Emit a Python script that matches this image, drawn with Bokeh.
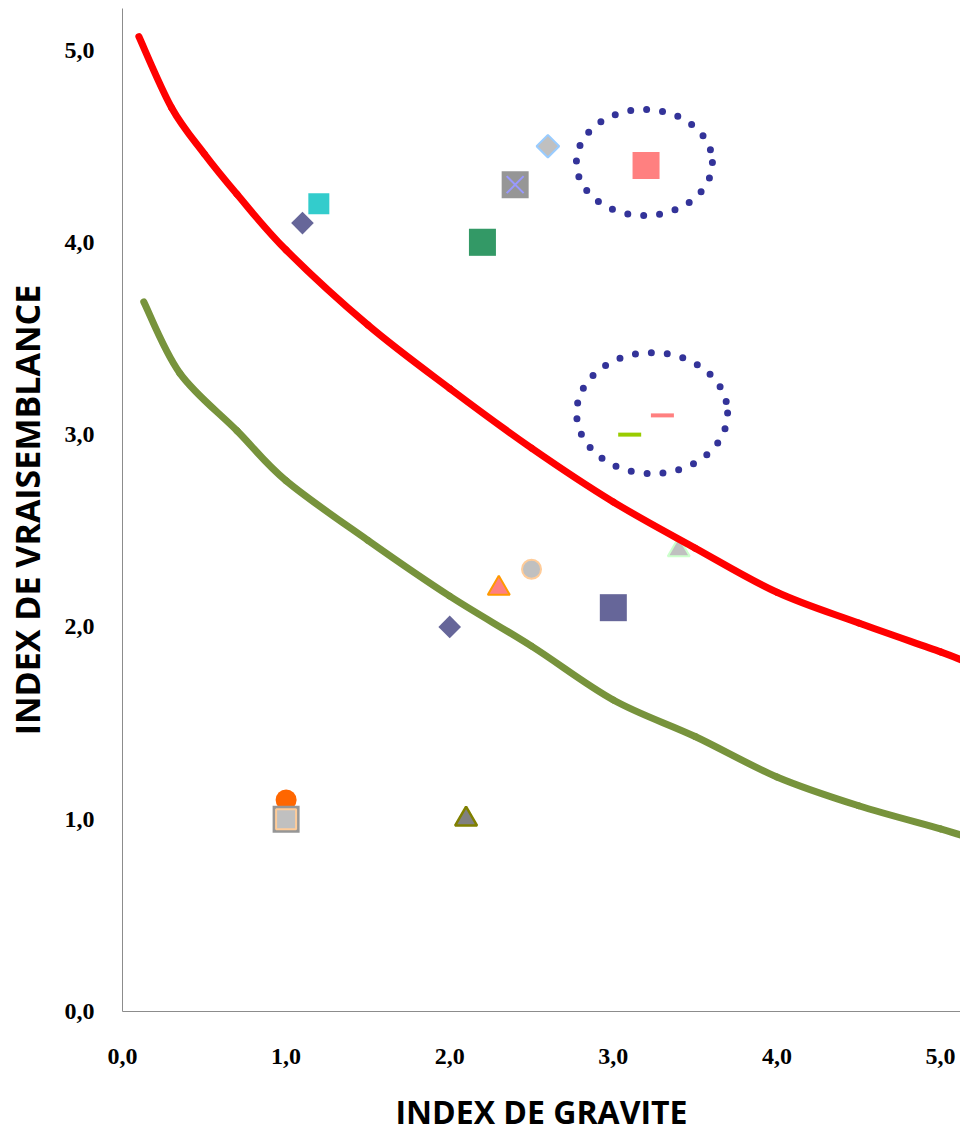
from bokeh.plotting import figure
from bokeh.models import Range1d, FixedTicker
from bokeh.embed import file_html
from bokeh.resources import INLINE
import numpy as np

# ---- data ----
tick_values = [0, 1, 2, 3, 4, 5]
tick_labels = ["0,0", "1,0", "2,0", "3,0", "4,0", "5,0"]
x_title = "INDEX DE GRAVITE"
y_title = "INDEX DE VRAISEMBLANCE"

red_x = [0.1, 0.3, 0.5, 0.7, 1.0, 1.5, 2.0, 2.5, 3.0, 3.5, 4.0, 4.5, 5.0, 5.15]
red_y = [5.07, 4.70, 4.46, 4.25, 3.96, 3.57, 3.24, 2.93, 2.65, 2.41, 2.18, 2.02, 1.87, 1.82]

green_x = [0.13, 0.35, 0.7, 1.0, 1.5, 2.0, 2.5, 3.0, 3.5, 4.0, 4.5, 5.0, 5.15]
green_y = [3.69, 3.32, 3.02, 2.76, 2.45, 2.16, 1.90, 1.62, 1.43, 1.22, 1.07, 0.95, 0.91]

slate_diamond_x = [1.1, 2.0]
slate_diamond_y = [4.1, 2.0]
cyan_square_x = [1.2]
cyan_square_y = [4.2]
green_square_x = [2.2]
green_square_y = [4.0]
gray_xsquare_x = [2.4]
gray_xsquare_y = [4.3]
light_diamond_x = [2.6]
light_diamond_y = [4.5]
salmon_square_x = [3.2]
salmon_square_y = [4.4]
salmon_dash_x = [3.3]
salmon_dash_y = [3.1]
lime_dash_x = [3.1]
lime_dash_y = [3.0]
salmon_tri_x = [2.3]
salmon_tri_y = [2.2]
gray_circle_x = [2.5]
gray_circle_y = [2.3]
light_tri_x = [3.4]
light_tri_y = [2.4]
slate_square_x = [3.0]
slate_square_y = [2.1]
orange_circle_x = [1.0]
orange_circle_y = [1.1]
gray_square_x = [1.0]
gray_square_y = [1.0]
inner_square_x = [1.0]
inner_square_y = [1.0]
olive_tri_x = [2.1]
olive_tri_y = [1.0]

ellipse_x = [3.19, 3.237]
ellipse_y = [4.415, 3.112]
ellipse_w = [136, 151]
ellipse_h = [106, 121]

# ---- figure ----
p = figure(width=960, height=1140, output_backend="svg", toolbar_location=None,
           x_range=Range1d(0, 5.122), y_range=Range1d(0, 5.216),
           min_border_left=122, min_border_right=0, min_border_top=8, min_border_bottom=129)
p.outline_line_color = None
p.xgrid.visible = False
p.ygrid.visible = False
p.background_fill_color = "white"
p.border_fill_color = "white"

for ax in (p.xaxis[0], p.yaxis[0]):
    ax.ticker = FixedTicker(ticks=tick_values)
    ax.major_label_overrides = {v: l for v, l in zip(tick_values, tick_labels)}
    ax.axis_line_color = "#8c8c8c"
    ax.axis_line_width = 1
    ax.major_tick_line_color = None
    ax.minor_tick_line_color = None
    ax.major_label_text_font = "Liberation Serif"
    ax.major_label_text_font_style = "bold"
    ax.major_label_text_font_size = "24px"
    ax.major_label_text_color = "black"
    ax.axis_label_text_font = "Open Sans"
    ax.axis_label_text_font_style = "bold"
    ax.axis_label_text_color = "black"

p.xaxis.axis_label = x_title
p.yaxis.axis_label = y_title
p.xaxis.axis_label_text_font_size = "32px"
p.yaxis.axis_label_text_font_size = "34px"
p.xaxis.major_label_standoff = 31
p.xaxis.axis_label_standoff = 23
p.yaxis.major_label_standoff = 22
p.yaxis.axis_label_standoff = 12


def smooth_segments(xs, ys):
    # Bezier control points (Catmull-Rom style) so the line is drawn smoothly,
    # passing through every data point, like a smoothed spreadsheet line.
    X = np.array(xs, float)
    Y = np.array(ys, float)
    n = len(X)
    x0, y0, x1, y1, cx0, cy0, cx1, cy1 = [], [], [], [], [], [], [], []
    for i in range(n - 1):
        a = max(i - 1, 0)
        b = min(i + 2, n - 1)
        x0.append(X[i]); y0.append(Y[i]); x1.append(X[i + 1]); y1.append(Y[i + 1])
        cx0.append(X[i] + (X[i + 1] - X[a]) / 6); cy0.append(Y[i] + (Y[i + 1] - Y[a]) / 6)
        cx1.append(X[i + 1] - (X[b] - X[i]) / 6); cy1.append(Y[i + 1] - (Y[b] - Y[i]) / 6)
    return dict(x0=x0, y0=y0, x1=x1, y1=y1, cx0=cx0, cy0=cy0, cx1=cx1, cy1=cy1)


# ---- markers ----
def diamond(x, y, fill, line=None, lw=0):
    p.scatter(x, y, marker="square", angle=np.pi / 4, size=16, fill_color=fill,
              line_color=line, line_width=lw)

diamond(slate_diamond_x, slate_diamond_y, "#666699")
p.scatter(cyan_square_x, cyan_square_y, marker="square", size=21, fill_color="#33CCCC", line_color=None)
p.scatter(green_square_x, green_square_y, marker="square", size=27, fill_color="#339966", line_color=None)
p.scatter(gray_xsquare_x, gray_xsquare_y, marker="square", size=27, fill_color="#969696", line_color=None)
p.scatter(gray_xsquare_x, gray_xsquare_y, marker="x", size=24, line_color="#9999FF", line_width=2)
diamond(light_diamond_x, light_diamond_y, "#C0C0C0", "#99CCFF", 2)
p.scatter(salmon_square_x, salmon_square_y, marker="square", size=27, fill_color="#FF8080", line_color=None)
p.scatter(salmon_dash_x, salmon_dash_y, marker="dash", size=23, line_color="#FF8080", line_width=4)
p.scatter(lime_dash_x, lime_dash_y, marker="dash", size=23, line_color="#99CC00", line_width=4)
p.scatter(salmon_tri_x, salmon_tri_y, marker="triangle", size=22, fill_color="#FF8080",
          line_color="#FF9900", line_width=2)
p.scatter(gray_circle_x, gray_circle_y, marker="circle", size=19, fill_color="#C0C0C0",
          line_color="#FFCC99", line_width=2)
p.scatter(light_tri_x, light_tri_y, marker="triangle", size=22, fill_color="#C0C0C0",
          line_color="#CCFFCC", line_width=2)
p.scatter(slate_square_x, slate_square_y, marker="square", size=27, fill_color="#666699", line_color=None)
p.scatter(orange_circle_x, orange_circle_y, marker="circle", size=21, fill_color="#FF6600", line_color=None)
p.scatter(gray_square_x, gray_square_y, marker="square", size=27, fill_color="#969696", line_color=None)
p.scatter(inner_square_x, inner_square_y, marker="square", size=20, fill_color="#C0C0C0",
          line_color="#FFCC99", line_width=2)
p.scatter(olive_tri_x, olive_tri_y, marker="triangle", size=22, fill_color="#808080",
          line_color="#808000", line_width=2.5)

# ---- curves ----
p.bezier(**smooth_segments(red_x, red_y), line_color="#FF0000", line_width=7,
         line_cap="round")
p.bezier(**smooth_segments(green_x, green_y), line_color="#77933C", line_width=7,
         line_cap="round")

# ---- dotted ellipses ----
p.ellipse(ellipse_x, ellipse_y, width=ellipse_w, height=ellipse_h,
          width_units="screen", height_units="screen",
          fill_color=None, line_color="#333399", line_width=7,
          line_dash="0 16", line_cap="round")

open("out.html", "w").write(file_html(p, INLINE))
